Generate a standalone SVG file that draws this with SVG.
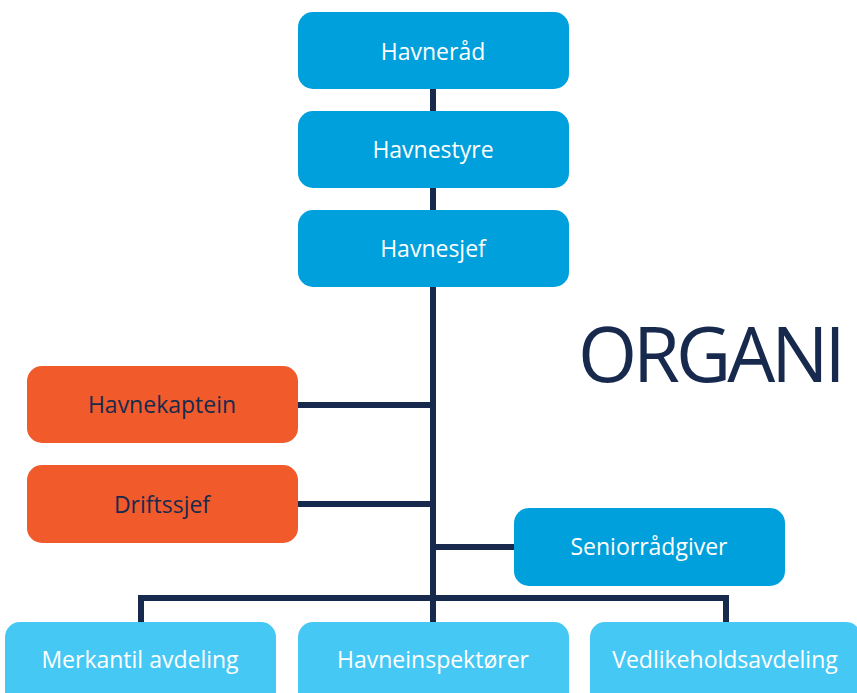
<svg xmlns="http://www.w3.org/2000/svg" width="857" height="693" viewBox="0 0 857 693">
<style>
.t{font-family:"Open Sans","Noto Sans","Liberation Sans",sans-serif;font-size:23px;text-anchor:middle}
.w{fill:#ffffff}
.d{fill:#172a4e}
.blue{fill:#00a0dc}
.orange{fill:#f15a2b}
.light{fill:#46c8f5}
.ln{stroke:#172a4e;stroke-width:6;fill:none}
</style>
<rect width="857" height="693" fill="#ffffff"/>
<g id="connectors">
<line class="ln" x1="433" y1="88" x2="433" y2="598"/>
<line class="ln" x1="298" y1="405" x2="433" y2="405"/>
<line class="ln" x1="298" y1="504" x2="433" y2="504"/>
<line class="ln" x1="433" y1="547" x2="514" y2="547"/>
<polyline class="ln" points="141,623 141,598 726,598 726,623"/>
<line class="ln" x1="433" y1="598" x2="433" y2="623"/>
</g>
<g id="havnerad"><rect class="blue" x="298" y="12" width="271" height="77" rx="15"/><text class="t w" x="433" y="60">Havneråd</text></g>
<g id="havnestyre"><rect class="blue" x="298" y="111" width="271" height="77" rx="15"/><text class="t w" x="433" y="158">Havnestyre</text></g>
<g id="havnesjef"><rect class="blue" x="298" y="210" width="271" height="77" rx="15"/><text class="t w" x="433" y="257">Havnesjef</text></g>
<g id="havnekaptein"><rect class="orange" x="27" y="366" width="271" height="77" rx="15"/><text class="t d" x="162" y="413">Havnekaptein</text></g>
<g id="driftssjef"><rect class="orange" x="27" y="465" width="271" height="78" rx="15"/><text class="t d" x="162" y="513">Driftssjef</text></g>
<g id="seniorradgiver"><rect class="blue" x="514" y="508" width="271" height="78" rx="15"/><text class="t w" x="649" y="555">Seniorrådgiver</text></g>
<g id="merkantil"><rect class="light" x="5" y="622" width="271" height="90" rx="15"/><text class="t w" x="140" y="668">Merkantil avdeling</text></g>
<g id="havneinspektorer"><rect class="light" x="298" y="622" width="271" height="90" rx="15"/><text class="t w" x="433" y="668">Havneinspektører</text></g>
<g id="vedlikehold"><rect class="light" x="590" y="622" width="271" height="90" rx="15"/><text class="t w" x="725" y="668">Vedlikeholdsavdeling</text></g>
<text x="578" y="382" style="font-family:'Open Sans','Noto Sans','Liberation Sans',sans-serif;font-size:76px;letter-spacing:-4px" fill="#172a4e">ORGANI</text>
</svg>
